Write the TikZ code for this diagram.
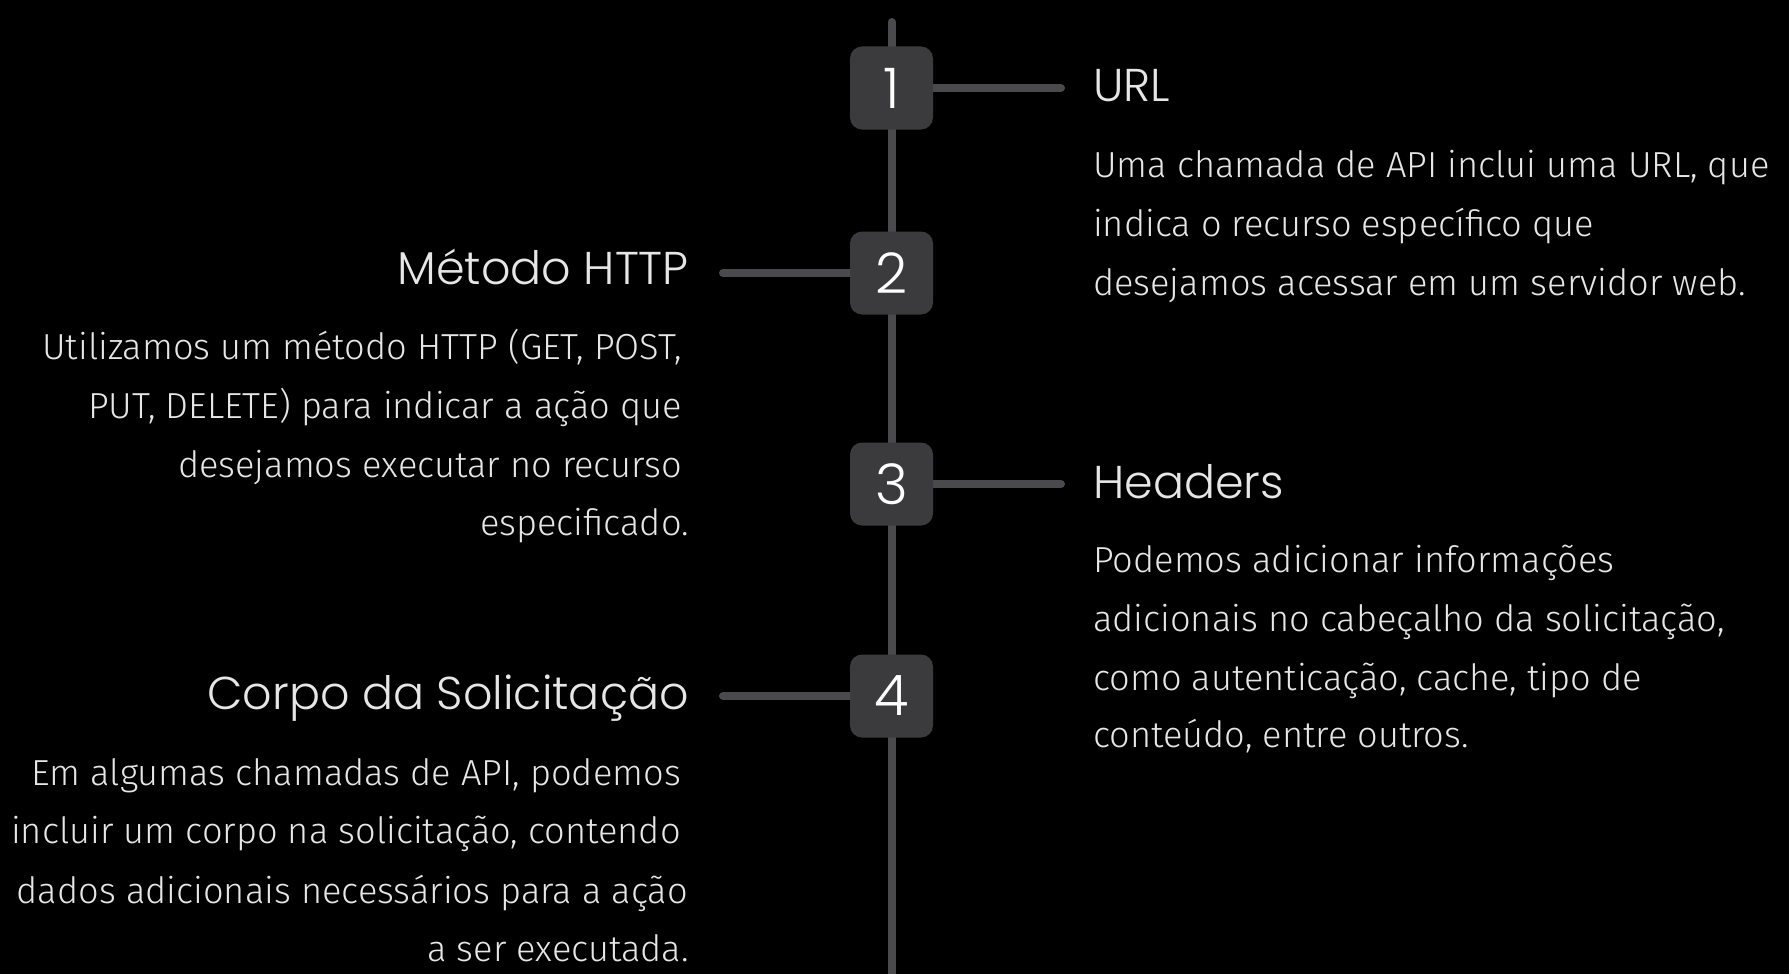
\documentclass[tikz,border=0pt]{standalone}
\usepackage{fontspec}
\newfontfamily\titlefont{Poppins Light}
\newfontfamily\bodyfont{Fira Sans Light}
\definecolor{bgc}{HTML}{000000}
\definecolor{boxc}{HTML}{3B3B3D}
\definecolor{linec}{HTML}{4A4A4D}
\definecolor{txtc}{HTML}{E6E6E6}
\pgfdeclarelayer{bottom}
\pgfdeclarelayer{lines}
\pgfsetlayers{bottom,lines,main}
\tikzset{
  numbox/.style={fill=boxc, rounded corners=12pt, minimum width=83pt, minimum height=83pt, inner sep=0pt, text=white, font=\titlefont\fontsize{56}{56}\selectfont},
  conn/.style={line width=8pt, draw=linec},
  ttl/.style={text=txtc, font=\titlefont\fontsize{46}{46}\selectfont, inner sep=0pt},
  bodyl/.style={text=txtc, font=\bodyfont\fontsize{36.2}{36.2}\selectfont, inner sep=0pt},
}
\begin{document}
\begin{tikzpicture}[x=1pt,y=-1pt]
\begin{pgfonlayer}{bottom}
\fill[bgc] (0,0) rectangle (1789,974);
\end{pgfonlayer}
\useasboundingbox (0,0) rectangle (1789,974);
% boxes
\node[numbox] (b1) at (891.5,88) {1};
\node[numbox] (b2) at (891.5,273) {2};
\node[numbox] (b3) at (891.5,484) {3};
\node[numbox] (b4) at (891.5,696) {4};
\coordinate (top) at (891.5,22);
\coordinate (bot) at (891.5,990);
\coordinate (e1) at (1061,88);
\coordinate (e2) at (723,273);
\coordinate (e3) at (1061,484);
\coordinate (e4) at (723,696);
\begin{pgfonlayer}{lines}
\draw[conn, line cap=round] (b1.center) -- (top);
\draw[conn] (b1.center) -- (b2.center) -- (b3.center) -- (b4.center) -- (bot);
\draw[conn, line cap=round] (b1.center) -- (e1);
\draw[conn, line cap=round] (b2.center) -- (e2);
\draw[conn, line cap=round] (b3.center) -- (e3);
\draw[conn, line cap=round] (b4.center) -- (e4);
\end{pgfonlayer}
% right column
\node[ttl, anchor=base west] (t1) at (1093,101) {URL};
\node[bodyl, anchor=base west] (u1) at (1093,177) {Uma chamada de API inclui uma URL, que};
\node[bodyl, anchor=base west] (u2) at (1093,236) {indica o recurso específico que};
\node[bodyl, anchor=base west] (u3) at (1093,295) {desejamos acessar em um servidor web.};
\node[ttl, anchor=base west] (t3) at (1093,498) {Headers};
\node[bodyl, anchor=base west] (h1) at (1093,572) {Podemos adicionar informações};
\node[bodyl, anchor=base west] (h2) at (1093,631) {adicionais no cabeçalho da solicitação,};
\node[bodyl, anchor=base west] (h3) at (1093,690) {como autenticação, cache, tipo de};
\node[bodyl, anchor=base west] (h4) at (1093,747) {conteúdo, entre outros.};
% left column
\node[ttl, anchor=base east] (t2) at (689,284) {Método HTTP};
\node[bodyl, anchor=base east] (m1) at (682,359) {Utilizamos um método HTTP (GET, POST,};
\node[bodyl, anchor=base east] (m2) at (682,418) {PUT, DELETE) para indicar a ação que};
\node[bodyl, anchor=base east] (m3) at (682,477) {desejamos executar no recurso};
\node[bodyl, anchor=base east] (m4) at (689,535) {especificado.};
\node[ttl, anchor=base east] (t4) at (689,709) {Corpo da Solicitação};
\node[bodyl, anchor=base east] (c1) at (681,785) {Em algumas chamadas de API, podemos};
\node[bodyl, anchor=base east] (c2) at (681,843) {incluir um corpo na solicitação, contendo};
\node[bodyl, anchor=base east] (c3) at (688,903) {dados adicionais necessários para a ação};
\node[bodyl, anchor=base east] (c4) at (689,961) {a ser executada.};
\end{tikzpicture}
\end{document}
